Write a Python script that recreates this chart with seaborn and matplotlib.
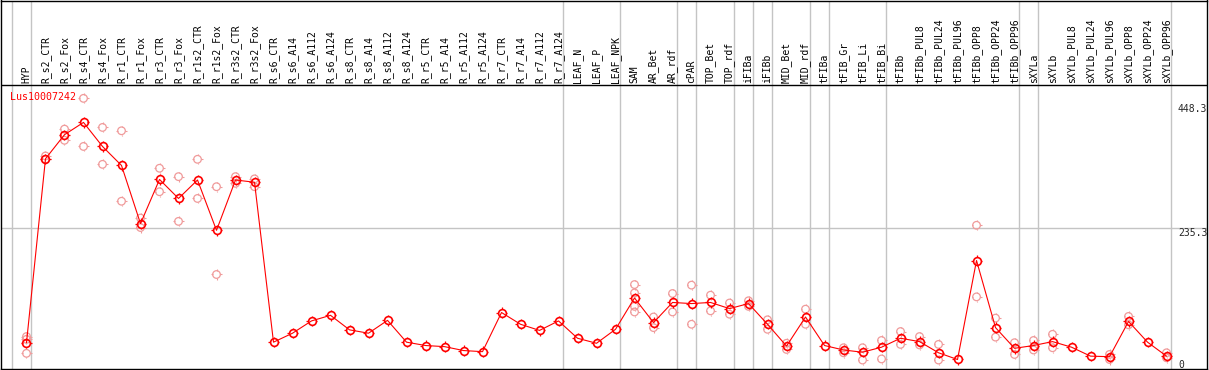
import numpy as np
import pandas as pd
import seaborn as sns
import matplotlib
matplotlib.use("Agg")
import matplotlib.pyplot as plt
from matplotlib.path import Path

# categories (sample types) in display order
samples = [
    "HYP", "R_s2_CTR", "R_s2_Fox", "R_s4_CTR", "R_s4_Fox", "R_r1_CTR", "R_r1_Fox",
    "R_r3_CTR", "R_r3_Fox", "R_r1s2_CTR", "R_r1s2_Fox", "R_r3s2_CTR", "R_r3s2_Fox",
    "R_s6_CTR", "R_s6_A14", "R_s6_A112", "R_s6_A124", "R_s8_CTR", "R_s8_A14",
    "R_s8_A112", "R_s8_A124", "R_r5_CTR", "R_r5_A14", "R_r5_A112", "R_r5_A124",
    "R_r7_CTR", "R_r7_A14", "R_r7_A112", "R_r7_A124", "LEAF_N", "LEAF_P", "LEAF_NPK",
    "SAM", "AR_Bet", "AR_rdf", "cPAR", "TOP_Bet", "TOP_rdf", "iFIBa", "iFIBb",
    "MID_Bet", "MID_rdf", "tFIBa", "tFIB_Gr", "tFIB_Li", "tFIB_Bi", "tFIBb",
    "tFIBb_PUL8", "tFIBb_PUL24", "tFIBb_PUL96", "tFIBb_OPP8", "tFIBb_OPP24",
    "tFIBb_OPP96", "sXYLa", "sXYLb", "sXYLb_PUL8", "sXYLb_PUL24", "sXYLb_PUL96",
    "sXYLb_OPP8", "sXYLb_OPP24", "sXYLb_OPP96",
]

# mean expression per sample
mean_expr = [
    31, 360, 403, 425, 382, 348, 244, 323, 289, 322, 232, 322, 318,
    32, 48, 70, 80, 54, 48, 71, 32, 26, 24, 17, 15, 85, 64, 53, 70,
    39, 30, 55, 111, 67, 103, 101, 103, 92, 101, 64, 25, 77,
    26, 18, 14, 23, 39, 33, 13, 1, 178, 58, 21, 26, 33, 23, 7, 6, 69, 32, 7,
]

# visible replicate values (upper / lower), None where hidden behind the mean
N = None
rep_hi = [
    42, 365, 413, 468, 416, 410, 254, 343, 328, 359, 310, 328, 324,
    N, N, N, N, N, N, N, N, N, N, N, N, N, N, N, N,
    N, N, N, 135, 77, 119, 134, 116, 102, 106, 72, 30, 91,
    N, 22, 22, 35, 51, 42, 28, N, 241, 75, 31, 35, 46, N, N, 10, 78, N, 13,
]
rep_lo = [
    12, 359, 393, 382, 350, 284, 237, 301, 248, 289, 153, 316, 310,
    N, N, N, N, N, N, N, N, N, N, N, N, N, N, N, N,
    N, N, N, 86, 58, 86, 64, 88, 82, 96, 55, 19, 64,
    N, 13, 0, 2, 28, 27, 0, N, 113, 41, 10, 18, 22, N, N, 1, 63, N, 4,
]
extra_reps = {"HYP": [37], "SAM": [120, 96]}

# last sample of each group (grey separators)
group_ends = ["HYP", "R_r7_A124", "LEAF_NPK", "AR_rdf", "cPAR", "TOP_rdf", "iFIBa",
              "iFIBb", "MID_rdf", "tFIBa", "tFIB_Bi", "tFIBb_OPP96", "sXYLa",
              "sXYLb_OPP96"]

gene = "Lus10007242"
max_label = 448.3
mid_label = 235.3

# --- data frames
idx = np.arange(len(samples))
df_mean = pd.DataFrame({"pos": idx, "expr": mean_expr})
rows = []
for i, s in enumerate(samples):
    for v in (rep_hi[i], rep_lo[i]):
        if v is not None:
            rows.append({"pos": i, "expr": v})
    for v in extra_reps.get(s, []):
        rows.append({"pos": i, "expr": v})
df_reps = pd.DataFrame(rows)

# little tick marks around each circle
tick_only = Path([[0, 1], [0, 1.3], [0, -1], [0, -1.3],
                  [1, 0], [1.3, 0], [-1, 0], [-1.3, 0]],
                 [Path.MOVETO, Path.LINETO] * 4)

sns.set_style("white")
plt.rcParams["font.family"] = ["DejaVu Sans Mono"]

fig = plt.figure(figsize=(12.09, 3.70), dpi=100)
ax = fig.add_axes([1 / 1209, 1 / 370, 1206 / 1209, 368.5 / 370])

red = "#ff0000"
pink = "#f09a9a"
grey = "#c4c4c4"

# separators and reference line
for s in ["__start__"] + group_ends:
    p = -1 if s == "__start__" else samples.index(s)
    ax.axvline(p + 0.22, color=grey, lw=1, zorder=1)
ax.axhline(mid_label, color=grey, lw=1, zorder=1)
ax.axhline(491, color="black", lw=1, zorder=2)

# replicates: open circles + ticks
sns.scatterplot(data=df_reps, x="pos", y="expr", ax=ax, marker="o",
                s=30, facecolor="none", edgecolor=pink, linewidth=0.9,
                zorder=3, legend=False)
sns.scatterplot(data=df_reps, x="pos", y="expr", ax=ax, marker=tick_only,
                s=52, facecolor="none", edgecolor=pink, linewidth=0.8,
                zorder=3, legend=False)

# means: red line with open circles + ticks
sns.lineplot(data=df_mean, x="pos", y="expr", ax=ax, color=red, lw=0.8,
             marker="o", markersize=5.6, markerfacecolor="none",
             markeredgecolor=red, markeredgewidth=1.2, zorder=4)
sns.scatterplot(data=df_mean, x="pos", y="expr", ax=ax, marker=tick_only,
                s=56, facecolor="none", edgecolor=red, linewidth=0.9,
                zorder=4, legend=False)

# sample labels in the header strip
for i, s in enumerate(samples):
    ax.text(i, 495, s, rotation=90, ha="center", va="bottom",
            fontsize=7, color="black")

ax.text(-0.87, 470, gene, ha="left", va="center", fontsize=7.2, color=red)

# value labels at the right edge
ax.text(60.6, max_label, f"{max_label}", ha="left", va="center", fontsize=7, clip_on=True)
ax.text(60.6, mid_label, f"{mid_label}", ha="left", va="top", fontsize=7, clip_on=True)
ax.text(60.6, 0, "0", ha="left", va="top", fontsize=7, clip_on=True)

ax.set_xlim(-1.342, 62.13)
ax.set_ylim(-16, 643)
ax.set_xticks([])
ax.set_yticks([])
ax.set_xlabel("")
ax.set_ylabel("")
for sp in ax.spines.values():
    sp.set_color("black")
    sp.set_linewidth(1)

fig.savefig("out.png", dpi=100)
